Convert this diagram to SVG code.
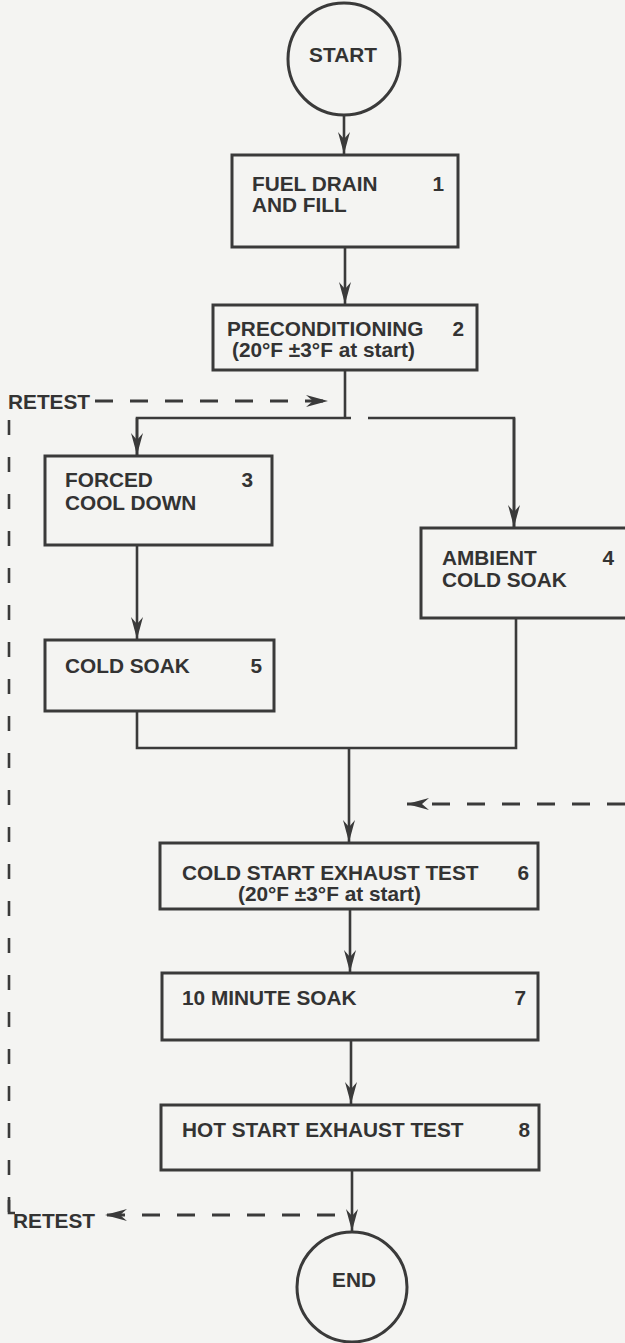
<svg xmlns="http://www.w3.org/2000/svg" width="625" height="1343" viewBox="0 0 625 1343">
<style>
  .bg { fill: #f4f4f2; }
  .box { fill: none; stroke: #3a3a3a; stroke-width: 3; }
  .term { fill: none; stroke: #3a3a3a; stroke-width: 3; }
  .ln { fill: none; stroke: #3a3a3a; stroke-width: 2.6; }
  .dash { fill: none; stroke: #3a3a3a; stroke-width: 3; stroke-dasharray: 18 17; }
  .vdash { fill: none; stroke: #3a3a3a; stroke-width: 2.6; stroke-dasharray: 15 22; }
  text { font-family: "Liberation Sans", Arial, sans-serif; font-weight: bold; font-size: 20.8px; fill: #333; }
  .mid { text-anchor: middle; }
  .end { text-anchor: end; }
</style>
<defs>
  <marker id="ah" viewBox="-24 -8 26 16" refX="0" refY="0" markerWidth="26" markerHeight="16" markerUnits="userSpaceOnUse" orient="auto">
    <path d="M0,0 L-22,-6 L-15,0 L-22,6 Z" fill="#3a3a3a"/>
  </marker>
</defs>
<rect class="bg" x="0" y="0" width="625" height="1343"/>

<g id="connectors">
  <line class="ln" x1="344" y1="115" x2="344" y2="154" marker-end="url(#ah)"/>
  <line class="ln" x1="345" y1="247" x2="345" y2="304" marker-end="url(#ah)"/>
  <line class="ln" x1="345" y1="370" x2="345" y2="419"/>
  <polyline class="ln" points="137,455 137,418 351,418"/>
  <polyline class="ln" points="368,418 514,418 514,527"/>
  <line class="ln" x1="137" y1="418" x2="137" y2="455" marker-end="url(#ah)"/>
  <line class="ln" x1="514" y1="418" x2="514" y2="527" marker-end="url(#ah)"/>
  <line class="ln" x1="137" y1="545" x2="137" y2="639" marker-end="url(#ah)"/>
  <polyline class="ln" points="137,711 137,748 516,748 516,618"/>
  <line class="ln" x1="349" y1="748" x2="349" y2="842" marker-end="url(#ah)"/>
  <line class="ln" x1="350" y1="909" x2="350" y2="972" marker-end="url(#ah)"/>
  <line class="ln" x1="351" y1="1040" x2="351" y2="1104" marker-end="url(#ah)"/>
  <line class="ln" x1="352" y1="1170" x2="352" y2="1231" marker-end="url(#ah)"/>
  <line class="dash" x1="95" y1="401" x2="328" y2="401" marker-end="url(#ah)"/>
  <line class="dash" x1="625" y1="804" x2="407" y2="804" marker-end="url(#ah)"/>
  <line class="dash" x1="335" y1="1215" x2="105" y2="1215" marker-end="url(#ah)"/>
  <polyline class="vdash" points="9,420 9,1212"/>
  <polyline class="ln" points="9,1200 9,1213 15,1213"/>
</g>

<g id="start">
  <circle class="term" cx="344" cy="59" r="56"/>
  <text class="mid" x="343" y="62">START</text>
</g>
<g id="n1">
  <rect class="box" x="232" y="155" width="226" height="92"/>
  <text x="252" y="191">FUEL DRAIN</text>
  <text x="252" y="212">AND FILL</text>
  <text class="end" x="444" y="191">1</text>
</g>
<g id="n2">
  <rect class="box" x="213" y="305" width="264" height="65"/>
  <text x="227" y="336">PRECONDITIONING</text>
  <text x="232" y="357">(20°F ±3°F at start)</text>
  <text class="end" x="464" y="336">2</text>
</g>
<g id="retest-top">
  <text x="8" y="409">RETEST</text>
</g>
<g id="n3">
  <rect class="box" x="45" y="456" width="227" height="89"/>
  <text x="65" y="487">FORCED</text>
  <text x="65" y="510">COOL DOWN</text>
  <text class="end" x="253" y="487">3</text>
</g>
<g id="n4">
  <rect class="box" x="421" y="528" width="215" height="90"/>
  <text x="442" y="565">AMBIENT</text>
  <text x="442" y="587">COLD SOAK</text>
  <text class="end" x="614" y="565">4</text>
</g>
<g id="n5">
  <rect class="box" x="45" y="640" width="229" height="71"/>
  <text x="65" y="673">COLD SOAK</text>
  <text class="end" x="262" y="673">5</text>
</g>
<g id="n6">
  <rect class="box" x="160" y="843" width="378" height="66"/>
  <text x="182" y="880">COLD START EXHAUST TEST</text>
  <text x="238" y="901">(20°F ±3°F at start)</text>
  <text class="end" x="529" y="880">6</text>
</g>
<g id="n7">
  <rect class="box" x="162" y="973" width="376" height="67"/>
  <text x="182" y="1005">10 MINUTE SOAK</text>
  <text class="end" x="526" y="1005">7</text>
</g>
<g id="n8">
  <rect class="box" x="161" y="1105" width="378" height="65"/>
  <text x="182" y="1137">HOT START EXHAUST TEST</text>
  <text class="end" x="530" y="1137">8</text>
</g>
<g id="retest-bottom">
  <text x="13" y="1228">RETEST</text>
</g>
<g id="end">
  <circle class="term" cx="352" cy="1287" r="55"/>
  <text class="mid" x="354" y="1287">END</text>
</g>
</svg>
